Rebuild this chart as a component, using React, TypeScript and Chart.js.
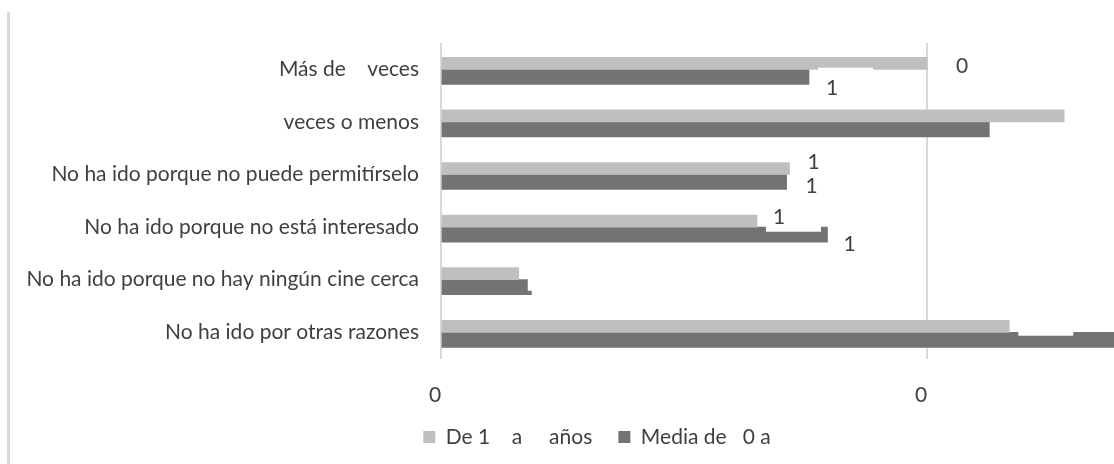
import React, { useEffect, useRef } from "react";
import { Chart, registerables } from "chart.js";

Chart.register(...registerables);

// ---- data ----
const categories = [
  "Más de    veces",
  "veces o menos",
  "No ha ido porque no puede permitírselo",
  "No ha ido porque no está interesado",
  "No ha ido porque no hay ningún cine cerca",
  "No ha ido por otras razones",
];
const seriesNames = ["De 1    a     años   ", "Media de   0 a"];
const youngValues = [10.0, 12.82, 7.17, 6.5, 1.6, 11.69];
const averageValues = [7.57, 11.28, 7.11, 7.95, 1.86, 14.4];
const youngLabels: (string | null)[] = ["0", null, "1", "1", "", ""];
const averageLabels: (string | null)[] = ["1", null, "1", "1", null, null];
const tickValues = [0, 10];
const tickLabels = ["0", "0"];

// ---- style ----
const FONT = "Lato";
const FONT_SIZE = 21;
const TEXT = "#404040";
const LIGHT = "#bfbfbf";
const DARK = "#737373";
const GRID = "#d9d9d9";
const CANVAS_W = 1194;
const X_MAX = 15.49;

// label nudges (dx from bar end, dy from bar centre, ext = white box overhang)
const LABEL_LAYOUT = [
  [
    { dx: 35, dy: 3, ext: 4 },
    null,
    { dx: 24, dy: -6, ext: 4 },
    { dx: 22, dy: -4, ext: 4.6 },
    { dx: 23, dy: 0, ext: 11 },
    { dx: 23, dy: 0, ext: 3.4 },
  ],
  [
    { dx: 23, dy: 11, ext: 1.6 },
    null,
    { dx: 25, dy: 4, ext: 1.6 },
    { dx: 22, dy: 10, ext: 1.6 },
    null,
    null,
  ],
];

const framePlugin = {
  id: "frame",
  beforeDraw(chart: any) {
    const ctx = chart.ctx;
    ctx.save();
    ctx.fillStyle = "#ffffff";
    ctx.fillRect(0, 0, chart.width, chart.height);
    ctx.fillStyle = GRID;
    ctx.fillRect(7, 12, 3, chart.height - 12);
    ctx.restore();
  },
};

const labelPlugin = {
  id: "barLabels",
  afterDatasetsDraw(chart: any) {
    const ctx = chart.ctx;
    [youngLabels, averageLabels].forEach((labels, di) => {
      const meta = chart.getDatasetMeta(di);
      labels.forEach((txt, i) => {
        if (txt === null) return;
        const el = meta.data[i];
        const lay: any = (LABEL_LAYOUT[di] as any)[i];
        if (!el || !lay) return;
        const end = el.x;
        const top = el.y - el.height / 2;
        const bottom = el.y + el.height / 2;
        let y0: number, y1: number;
        if (di === 0) {
          y1 = bottom + lay.ext;
          y0 = y1 - 30;
        } else {
          y0 = top - lay.ext;
          y1 = y0 + 30;
        }
        ctx.save();
        ctx.fillStyle = "#ffffff";
        ctx.fillRect(end + 9, y0, 55, y1 - y0);
        if (txt) {
          ctx.fillStyle = TEXT;
          ctx.font = `${FONT_SIZE}px ${FONT}`;
          ctx.textAlign = "center";
          ctx.textBaseline = "middle";
          ctx.fillText(txt, end + lay.dx, el.y + lay.dy);
        }
        ctx.restore();
      });
    });
  },
};

export default function App() {
  const ref = useRef<HTMLCanvasElement>(null);
  useEffect(() => {
    if (!ref.current) return;
    const chart = new Chart(ref.current, {
      type: "bar",
      data: {
        labels: categories,
        datasets: [
          { label: seriesNames[0], data: youngValues, backgroundColor: LIGHT, barThickness: 12 },
          { label: seriesNames[1], data: averageValues, backgroundColor: DARK, barThickness: 15 },
        ],
      },
      options: {
        indexAxis: "y",
        animation: false,
        responsive: false,
        devicePixelRatio: 1,
        layout: { padding: { top: 43, right: 0, bottom: 6.5, left: 0 } },
        plugins: {
          tooltip: { enabled: false },
          legend: {
            position: "bottom",
            labels: {
              boxWidth: 12,
              boxHeight: 12,
              padding: 10,
              color: TEXT,
              font: { family: FONT, size: FONT_SIZE },
            },
          },
        },
        scales: {
          x: {
            type: "linear",
            min: 0,
            max: X_MAX,
            afterBuildTicks: (axis: any) => {
              axis.ticks = tickValues.map((v) => ({ value: v }));
            },
            afterFit: (s: any) => {
              s.height = 57.9;
            },
            ticks: {
              callback: (_v: any, i: number) => tickLabels[i],
              padding: 24,
              labelOffset: -6,
              color: TEXT,
              font: { family: FONT, size: FONT_SIZE },
              maxRotation: 0,
            },
            grid: { color: GRID, lineWidth: 2, drawTicks: false },
            border: { display: false },
          },
          y: {
            type: "category",
            afterFit: (s: any) => {
              s.width = 441;
            },
            ticks: {
              padding: 22,
              color: TEXT,
              font: { family: FONT, size: FONT_SIZE },
            },
            grid: { display: false, drawTicks: false },
            border: { display: false },
          },
        },
      },
      plugins: [framePlugin, labelPlugin],
    });
    return () => chart.destroy();
  }, []);
  return (
    <div
      style={{
        position: "fixed",
        left: 0,
        top: 0,
        width: 1114,
        height: 464,
        overflow: "hidden",
        background: "#fff",
      }}
    >
      <canvas ref={ref} width={CANVAS_W} height={464} style={{ display: "block" }} />
    </div>
  );
}
